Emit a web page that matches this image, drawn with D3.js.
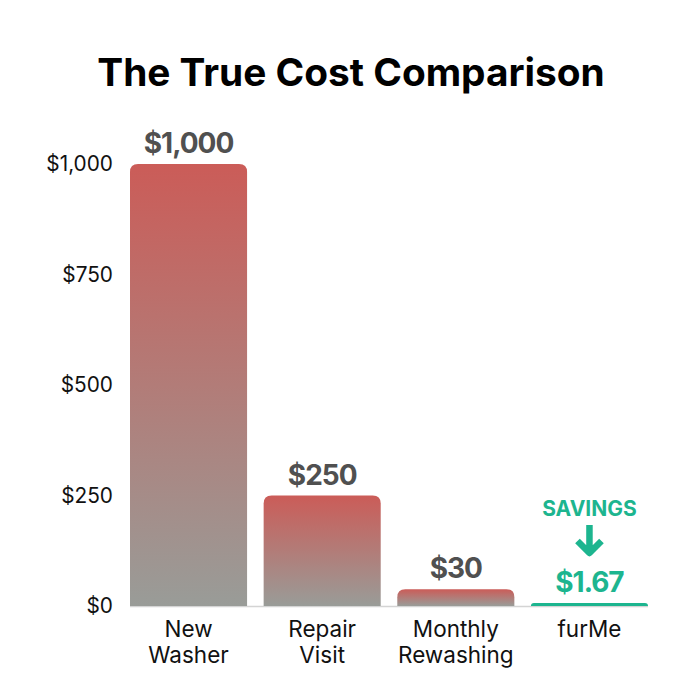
<!DOCTYPE html>
<html>
<head>
<meta charset="utf-8">
<script src="https://cdn.jsdelivr.net/npm/d3@7"></script>
<style>
  html, body { margin: 0; padding: 0; background: #fff; }
  svg { display: block; }
  text { font-family: Inter, "Open Sans", sans-serif; }
</style>
</head>
<body>
<script>
var categories = [["New", "Washer"], ["Repair", "Visit"], ["Monthly", "Rewashing"], ["furMe"]];
// bar heights as drawn in the picture, the small ones are not quite to scale
var barHeights = [1000, 250, 38, 7];
var valueLabels = ["$1,000", "$250", "$30", "$1.67"];
var yTicks = [0, 250, 500, 750, 1000];
var yTickLabels = ["$0", "$250", "$500", "$750", "$1,000"];

var width = 700, height = 700;
var green = "#1db58f", labelGrey = "#505050";

var svg = d3.select("body").append("svg")
    .attr("width", width)
    .attr("height", height);

var grad = svg.append("defs").append("linearGradient")
    .attr("id", "barFade")
    .attr("x1", 0).attr("y1", 0).attr("x2", 0).attr("y2", 1);
grad.append("stop").attr("offset", "0%").attr("stop-color", "#cb5c58");
grad.append("stop").attr("offset", "100%").attr("stop-color", "#999c98");

var x = d3.scaleBand()
    .domain(d3.range(categories.length))
    .range([130, 648])
    .paddingInner(0.124);

var y = d3.scaleLinear().domain([0, 1000]).range([606, 164]);

svg.append("text")
    .attr("x", 351).attr("y", 86)
    .attr("text-anchor", "middle")
    .attr("font-size", 38.8)
    .attr("font-weight", 700)
    .text("The True Cost Comparison");

// y axis, labels only
var yAxis = d3.axisLeft(y)
    .tickValues(yTicks)
    .tickSize(0)
    .tickPadding(0)
    .tickFormat(function(d, i) { return yTickLabels[i]; });

svg.append("g")
    .attr("transform", "translate(113,0)")
    .call(yAxis)
    .call(function(g) { g.select(".domain").remove(); })
    .selectAll("text")
    .attr("font-size", 20.8)
    .attr("fill", "#111")
    .style("font-family", "Inter, sans-serif");

svg.append("line")
    .attr("x1", 130).attr("x2", 648)
    .attr("y1", y(0) + 0.5).attr("y2", y(0) + 0.5)
    .attr("stroke", "#d4d4d4")
    .attr("stroke-width", 1.5);

function barPath(d, i) {
  var x0 = x(i), w = x.bandwidth(), y0 = y(d), b = y(0);
  var r = Math.min(8, b - y0);
  return "M" + x0 + "," + b + "V" + (y0 + r) +
    "Q" + x0 + "," + y0 + " " + (x0 + r) + "," + y0 +
    "H" + (x0 + w - r) +
    "Q" + (x0 + w) + "," + y0 + " " + (x0 + w) + "," + (y0 + r) +
    "V" + b + "Z";
}

svg.selectAll(".bar")
    .data(barHeights)
  .enter().append("path")
    .attr("class", "bar")
    .attr("d", barPath)
    .attr("fill", function(d, i) { return i == 3 ? green : "url(#barFade)"; });

svg.selectAll(".val")
    .data(barHeights)
  .enter().append("text")
    .attr("class", "val")
    .attr("x", function(d, i) { return x(i) + x.bandwidth() / 2; })
    .attr("y", function(d, i) { return i == 3 ? 592 : y(d) - 11; })
    .attr("text-anchor", "middle")
    .attr("font-size", 28)
    .attr("font-weight", 700)
    .attr("letter-spacing", -1)
    .attr("fill", function(d, i) { return i == 3 ? green : labelGrey; })
    .text(function(d, i) { return valueLabels[i]; });

// category labels, one tspan per line
var cat = svg.selectAll(".cat")
    .data(categories)
  .enter().append("text")
    .attr("class", "cat")
    .attr("text-anchor", "middle")
    .attr("font-size", 22.5)
    .attr("fill", "#111")
    .attr("transform", function(d, i) {
      return "translate(" + (x(i) + x.bandwidth() / 2) + ",637)";
    });
cat.selectAll("tspan")
    .data(function(d) { return d; })
  .enter().append("tspan")
    .attr("x", 0)
    .attr("dy", function(d, i) { return i ? 26 : 0; })
    .text(function(d) { return d; });

// savings callout over the last bar
var cx = x(3) + x.bandwidth() / 2;
svg.append("text")
    .attr("x", cx).attr("y", 516)
    .attr("text-anchor", "middle")
    .attr("font-size", 21)
    .attr("font-weight", 700)
    .attr("fill", green)
    .text("SAVINGS");

svg.append("path")
    .attr("transform", "translate(" + cx + ",0)")
    .attr("d", "M0,525V553M-12,541L0,553L12,541")
    .attr("fill", "none")
    .attr("stroke", green)
    .attr("stroke-width", 6.5)
    .attr("stroke-linejoin", "round");
</script>
</body>
</html>
